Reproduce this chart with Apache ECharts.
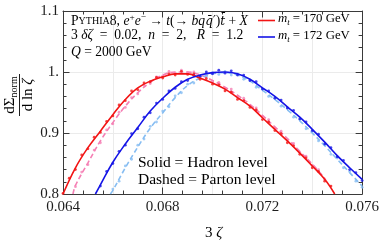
<!DOCTYPE html>
<html><head><meta charset="utf-8">
<script src="https://cdn.jsdelivr.net/npm/echarts@6/dist/echarts.min.js"></script>
<style>html,body{margin:0;padding:0;background:#fff}#c{width:382px;height:241px}</style>
</head><body><div id="c"></div>
<script>
// ---- tick labels ----
const xTickLabels = ['0.064', '0.068', '0.072', '0.076'];
const yTickLabels = ['0.8', '0.9', '1.', '1.1'];

// ---- fitted curves [3ζ, dΣ/dlnζ] ----
const hadron170Fit = [[0.0640,0.800],[0.0645,0.843],[0.0650,0.876],[0.0655,0.903],[0.0660,0.930],[0.0665,0.955],[0.0670,0.974],[0.0675,0.985],[0.0680,0.992],[0.0685,0.997],[0.0690,0.997],[0.0695,0.990],[0.0700,0.982],[0.0705,0.972],[0.0710,0.958],[0.0715,0.944],[0.0720,0.925],[0.0725,0.906],[0.0730,0.887],[0.0735,0.867],[0.0740,0.846],[0.0745,0.824],[0.0749,0.800]];
const parton170Fit = [[0.0644,0.800],[0.0645,0.814],[0.0650,0.851],[0.0655,0.887],[0.0660,0.917],[0.0665,0.944],[0.0670,0.966],[0.0675,0.983],[0.0680,0.995],[0.0685,1.000],[0.0690,1.000],[0.0695,0.995],[0.0700,0.986],[0.0705,0.975],[0.0710,0.962],[0.0715,0.947],[0.0720,0.929],[0.0725,0.910],[0.0730,0.891],[0.0735,0.870],[0.0740,0.849],[0.0745,0.826]];
const hadron172Fit = [[0.0653,0.800],[0.0655,0.815],[0.0660,0.852],[0.0665,0.882],[0.0670,0.909],[0.0675,0.936],[0.0680,0.957],[0.0685,0.975],[0.0690,0.988],[0.0695,0.995],[0.0700,0.999],[0.0705,1.000],[0.0710,0.997],[0.0715,0.988],[0.0720,0.974],[0.0725,0.960],[0.0730,0.943],[0.0735,0.926],[0.0740,0.906],[0.0745,0.885],[0.0750,0.863],[0.0755,0.843],[0.0760,0.824]];
const parton172Fit = [[0.0659,0.800],[0.0660,0.806],[0.0665,0.843],[0.0670,0.877],[0.0675,0.908],[0.0680,0.933],[0.0685,0.958],[0.0690,0.978],[0.0695,0.990],[0.0700,0.997],[0.0705,0.999],[0.0710,0.995],[0.0715,0.985],[0.0720,0.970],[0.0725,0.955],[0.0730,0.938],[0.0735,0.920],[0.0740,0.900],[0.0745,0.879],[0.0750,0.857],[0.0755,0.835],[0.0760,0.813]];

// ---- sampled points ----
const hadron170Pts = [[0.06400,0.801],[0.06425,0.826],[0.06450,0.840],[0.06475,0.864],[0.06500,0.874],[0.06525,0.893],[0.06550,0.901],[0.06575,0.919],[0.06600,0.928],[0.06625,0.946],[0.06650,0.953],[0.06675,0.969],[0.06700,0.971],[0.06725,0.982],[0.06750,0.984],[0.06775,0.991],[0.06800,0.990],[0.06825,0.997],[0.06850,0.995],[0.06875,1.001],[0.06900,0.996],[0.06925,0.997],[0.06950,0.988],[0.06975,0.989],[0.07000,0.980],[0.07025,0.979],[0.07050,0.969],[0.07075,0.967],[0.07100,0.955],[0.07125,0.953],[0.07150,0.942],[0.07175,0.938],[0.07200,0.922],[0.07225,0.918],[0.07250,0.904],[0.07275,0.899],[0.07300,0.884],[0.07325,0.879],[0.07350,0.865],[0.07375,0.859],[0.07400,0.843],[0.07425,0.837],[0.07450,0.821],[0.07475,0.813]];
const parton170Pts = [[0.06450,0.812],[0.06475,0.836],[0.06500,0.848],[0.06525,0.872],[0.06550,0.884],[0.06575,0.905],[0.06600,0.915],[0.06625,0.934],[0.06650,0.942],[0.06675,0.958],[0.06700,0.964],[0.06725,0.978],[0.06750,0.981],[0.06775,0.992],[0.06800,0.993],[0.06825,1.001],[0.06850,0.998],[0.06875,1.003],[0.06900,0.999],[0.06925,1.000],[0.06950,0.993],[0.06975,0.994],[0.07000,0.984],[0.07025,0.983],[0.07050,0.973],[0.07075,0.972],[0.07100,0.960],[0.07125,0.957],[0.07150,0.945],[0.07175,0.941],[0.07200,0.927],[0.07225,0.922],[0.07250,0.908],[0.07275,0.903],[0.07300,0.889],[0.07325,0.883],[0.07350,0.868],[0.07375,0.862],[0.07400,0.847],[0.07425,0.840],[0.07450,0.824]];
const hadron172Pts = [[0.06550,0.813],[0.06575,0.837],[0.06600,0.850],[0.06625,0.870],[0.06650,0.880],[0.06675,0.899],[0.06700,0.907],[0.06725,0.926],[0.06750,0.933],[0.06775,0.949],[0.06800,0.955],[0.06825,0.969],[0.06850,0.973],[0.06875,0.984],[0.06900,0.986],[0.06925,0.994],[0.06950,0.993],[0.06975,1.000],[0.07000,0.997],[0.07025,1.003],[0.07050,0.998],[0.07075,1.002],[0.07100,0.995],[0.07125,0.995],[0.07150,0.986],[0.07175,0.984],[0.07200,0.972],[0.07225,0.969],[0.07250,0.957],[0.07275,0.954],[0.07300,0.941],[0.07325,0.937],[0.07350,0.923],[0.07375,0.918],[0.07400,0.904],[0.07425,0.898],[0.07450,0.882],[0.07475,0.876],[0.07500,0.861],[0.07525,0.855],[0.07550,0.840],[0.07575,0.835],[0.07600,0.822]];
const parton172Pts = [[0.06600,0.808],[0.06625,0.821],[0.06650,0.846],[0.06675,0.857],[0.06700,0.880],[0.06725,0.890],[0.06750,0.911],[0.06775,0.918],[0.06800,0.936],[0.06825,0.943],[0.06850,0.961],[0.06875,0.966],[0.06900,0.980],[0.06925,0.982],[0.06950,0.993],[0.06975,0.992],[0.07000,0.999],[0.07025,0.996],[0.07050,1.001],[0.07075,0.995],[0.07100,0.997],[0.07125,0.988],[0.07150,0.987],[0.07175,0.975],[0.07200,0.972],[0.07225,0.960],[0.07250,0.957],[0.07275,0.944],[0.07300,0.940],[0.07325,0.926],[0.07350,0.922],[0.07375,0.907],[0.07400,0.902],[0.07425,0.887],[0.07450,0.881],[0.07475,0.865],[0.07500,0.859],[0.07525,0.843],[0.07550,0.837],[0.07575,0.821],[0.07600,0.811]];

const RED = '#f21414', BLUE = '#1414e6', PINK = '#f57fb4', LBLUE = '#86bdf2';
const SERIF = '"Liberation Serif", "DejaVu Serif", serif';
const DJ = '"DejaVu Serif", serif';
const AX = '#3a3a3a';
const INK = '#1e1e1e';

const chart = echarts.init(document.getElementById('c'), null, {renderer: 'canvas'});

const xBase = {type: 'value', min: 0.064, max: 0.076, interval: 0.004};
const yBase = {type: 'value', min: 0.8, max: 1.1, interval: 0.1};
const tick = {show: true, inside: true, length: 6.5, lineStyle: {color: AX, width: 1}};
const minor = {show: true, splitNumber: 5, length: 3.5, lineStyle: {color: AX, width: 1}};
const line = {show: true, onZero: false, lineStyle: {color: AX, width: 1}};

function lineSeries(data, color, dashed, z) {
  return {type: 'line', data, smooth: 0.4, showSymbol: false, symbol: 'none', z,
    lineStyle: {color, width: 1.6, type: dashed ? [5, 3] : 'solid'}, silent: true};
}
function ptSeries(data, color, z) {
  return {type: 'scatter', data, symbolSize: 2.8, z, itemStyle: {color}, silent: true};
}

function richSet(fs, lh) {
  return {
    r: {fontFamily: SERIF, fontSize: fs, color: INK, lineHeight: lh, verticalAlign: 'middle'},
    i: {fontFamily: SERIF, fontSize: fs, fontStyle: 'italic', color: INK, lineHeight: lh, verticalAlign: 'middle'},
    d: {fontFamily: DJ, fontSize: fs - 1.5, fontStyle: 'italic', color: INK, lineHeight: lh, verticalAlign: 'middle'},
    sc: {fontFamily: SERIF, fontSize: fs * 0.74, color: INK, lineHeight: lh, verticalAlign: 'middle'},
    sup: {fontFamily: SERIF, fontSize: fs * 0.68, color: INK, lineHeight: lh, verticalAlign: 'top'},
    sub: {fontFamily: SERIF, fontSize: fs * 0.68, fontStyle: 'italic', color: INK, lineHeight: lh, verticalAlign: 'bottom'}
  };
}
const rtTop = richSet(13.6, 17);
const rtLeg = richSet(12.8, 17);
const rtBig = richSet(15.5, 18);

chart.setOption({
  animation: false,
  grid: {left: 63, right: 19, top: 11, bottom: 47, containLabel: false},
  xAxis: [
    Object.assign({}, xBase, {position: 'bottom', axisLine: line, axisTick: tick, minorTick: minor,
      splitLine: {show: false},
      axisLabel: {fontFamily: SERIF, fontSize: 15, color: INK, margin: 6,
        formatter: v => xTickLabels[Math.round((v - 0.064) / 0.004)]}}),
    Object.assign({}, xBase, {position: 'top', axisLine: line, axisTick: tick, minorTick: minor,
      splitLine: {show: false}, axisLabel: {show: false}}),
    Object.assign({}, xBase, {interval: 0.002, position: 'bottom', axisLine: {show: false}, axisTick: {show: false},
      axisLabel: {show: false}, splitLine: {show: true, lineStyle: {color: '#ebebeb', width: 1}}})
  ],
  yAxis: [
    Object.assign({}, yBase, {position: 'left', axisLine: line, axisTick: tick, minorTick: minor,
      splitLine: {show: true, lineStyle: {color: '#ebebeb', width: 1}},
      axisLabel: {fontFamily: SERIF, fontSize: 15, color: INK, margin: 4,
        formatter: v => yTickLabels[Math.round((v - 0.8) / 0.1)]}}),
    Object.assign({}, yBase, {position: 'right', axisLine: line, axisTick: tick, minorTick: minor,
      splitLine: {show: false}, axisLabel: {show: false}})
  ],
  series: [
    ptSeries(parton170Pts, PINK, 2), lineSeries(parton170Fit, PINK, true, 3),
    ptSeries(parton172Pts, LBLUE, 2), lineSeries(parton172Fit, LBLUE, true, 3),
    ptSeries(hadron170Pts, RED, 4), lineSeries(hadron170Fit, RED, false, 5),
    ptSeries(hadron172Pts, BLUE, 4), lineSeries(hadron172Fit, BLUE, false, 5)
  ],
  graphic: [
    {type: 'text', left: 71, top: 13, z: 20, style: {
      text: '{r|P}{sc|YTHIA}{r|8, }{i|e}{sup|+}{i|e}{sup|−}{r| → }{i|t}{r|(→ }{i|bq}{d|q̄′}{r|)}{d|t̄}{r| + }{i|X}',
      rich: rtTop}},
    {type: 'text', left: 71, top: 28.5, z: 20, style: {
      text: '{r|3 }{i|δζ}{r|  =  0.02,  }{i|n}{r|  =  2,   }{i|R}{r|  =  1.2}', rich: rtTop}},
    {type: 'text', left: 71, top: 45, z: 20, style: {
      text: '{i|Q}{r| = 2000 GeV}', rich: rtTop}},
    {type: 'line', z: 20, shape: {x1: 258, y1: 20.5, x2: 275, y2: 20.5}, style: {stroke: RED, lineWidth: 1.6}},
    {type: 'line', z: 20, shape: {x1: 258, y1: 37, x2: 275, y2: 37}, style: {stroke: BLUE, lineWidth: 1.6}},
    {type: 'text', left: 278, top: 12.5, z: 20, style: {text: '{i|m}{sub|t}{r| = 170 GeV}', rich: rtLeg}},
    {type: 'text', left: 278, top: 29, z: 20, style: {text: '{i|m}{sub|t}{r| = 172 GeV}', rich: rtLeg}},
    {type: 'text', left: 138, top: 155, z: 20, style: {text: '{r|Solid = Hadron level}', rich: rtBig}},
    {type: 'text', left: 138, top: 172, z: 20, style: {text: '{r|Dashed = Parton level}', rich: rtBig}},
    {type: 'text', left: 205, top: 226, z: 20, style: {text: '{a|3 }{b|ζ}',
      rich: {a: {fontFamily: SERIF, fontSize: 15, color: INK}, b: {fontFamily: SERIF, fontSize: 15, fontStyle: 'italic', color: INK}}}},
    {type: 'group', x: 19.5, y: 95, rotation: Math.PI / 2, z: 20, children: [
      {type: 'text', x: 0, y: -9, style: {text: '{a|dΣ}{s|norm}', align: 'center', verticalAlign: 'middle',
        rich: {a: {fontFamily: SERIF, fontSize: 15, color: INK, lineHeight: 18, verticalAlign: 'middle'},
               s: {fontFamily: SERIF, fontSize: 10, color: INK, lineHeight: 18, verticalAlign: 'bottom'}}}},
      {type: 'line', shape: {x1: -21, y1: 0, x2: 21, y2: 0}, style: {stroke: INK, lineWidth: 1}},
      {type: 'text', x: 0, y: 9, style: {text: '{a|d ln }{b|ζ}', align: 'center', verticalAlign: 'middle',
        rich: {a: {fontFamily: SERIF, fontSize: 15, color: INK, lineHeight: 18, verticalAlign: 'middle'},
               b: {fontFamily: SERIF, fontSize: 15, fontStyle: 'italic', color: INK, lineHeight: 18, verticalAlign: 'middle'}}}}
    ]}
  ]
});
</script></body></html>
